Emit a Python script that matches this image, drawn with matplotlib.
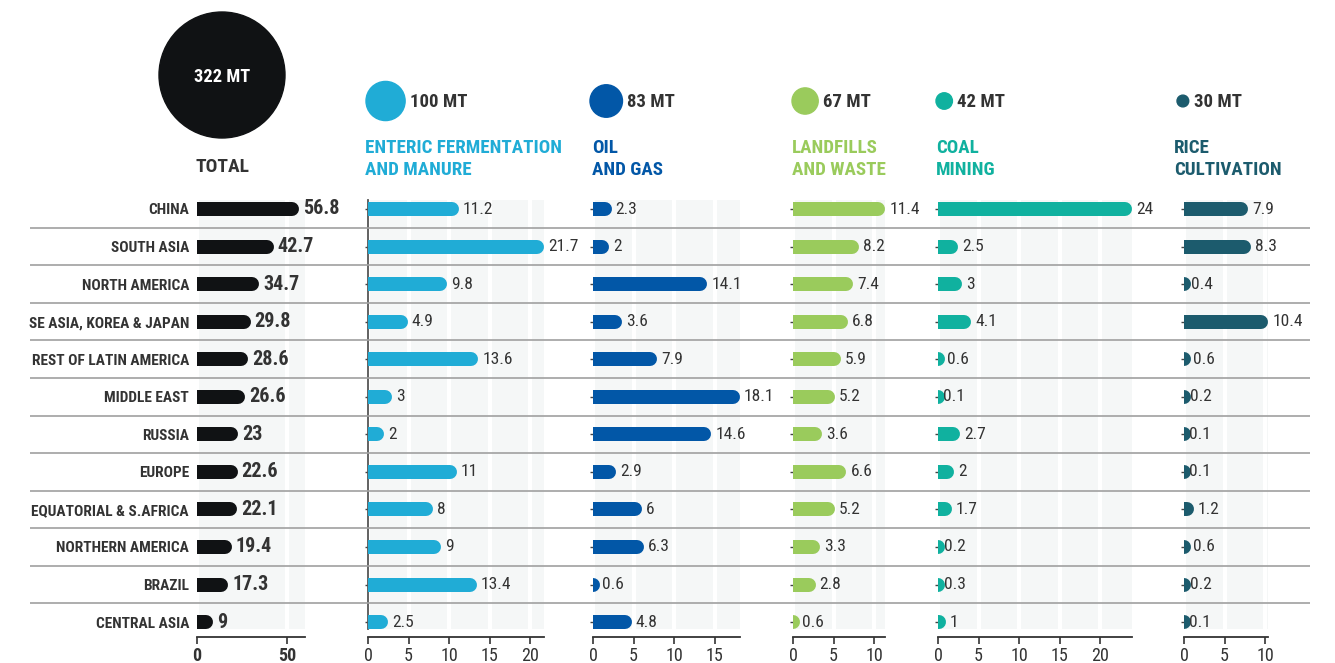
import matplotlib
matplotlib.use("Agg")
import matplotlib.pyplot as plt
from matplotlib import font_manager as fm
from matplotlib.patches import Circle
import numpy as np


def has_font(name):
    try:
        fm.findfont(fm.FontProperties(family=name), fallback_to_default=False)
        return True
    except ValueError:
        return False


# pick a condensed face if there is one, else squeeze the sizes a bit
if has_font('Roboto Condensed'):
    FONT, SQ = 'Roboto Condensed', 1.0
elif has_font('Liberation Sans Narrow'):
    FONT, SQ = 'Liberation Sans Narrow', 1.0
else:
    FONT, SQ = 'Roboto', 0.86
plt.rcParams['font.family'] = [FONT, 'DejaVu Sans']

regions = ['CHINA', 'SOUTH ASIA', 'NORTH AMERICA', 'SE ASIA, KOREA & JAPAN',
           'REST OF LATIN AMERICA', 'MIDDLE EAST', 'RUSSIA', 'EUROPE',
           'EQUATORIAL & S.AFRICA', 'NORTHERN AMERICA', 'BRAZIL', 'CENTRAL ASIA']
total = [56.8, 42.7, 34.7, 29.8, 28.6, 26.6, 23, 22.6, 22.1, 19.4, 17.3, 9]
enteric = [11.2, 21.7, 9.8, 4.9, 13.6, 3, 2, 11, 8, 9, 13.4, 2.5]
oil_gas = [2.3, 2, 14.1, 3.6, 7.9, 18.1, 14.6, 2.9, 6, 6.3, 0.6, 4.8]
landfills = [11.4, 8.2, 7.4, 6.8, 5.9, 5.2, 3.6, 6.6, 5.2, 3.3, 2.8, 0.6]
coal = [24, 2.5, 3, 4.1, 0.6, 0.1, 2.7, 2, 1.7, 0.2, 0.3, 1]
rice = [7.9, 8.3, 0.4, 10.4, 0.6, 0.2, 0.1, 0.1, 1.2, 0.6, 0.2, 0.1]

grand_total = 322
cat_totals = [100, 83, 67, 42, 30]
cat_titles = [('ENTERIC FERMENTATION', 'AND MANURE'), ('OIL', 'AND GAS'),
              ('LANDFILLS', 'AND WASTE'), ('COAL', 'MINING'), ('RICE', 'CULTIVATION')]
cat_series = [enteric, oil_gas, landfills, coal, rice]
cat_colors = ['#20acd6', '#0257a7', '#9acb5c', '#10b19f', '#1c5b6d']
total_color = '#101214'
text_color = '#333333'

W, H = 1335, 663
fig = plt.figure(figsize=(W / 100, H / 100), dpi=100)

# layout in pixels
TOP, BOT = 200, 629
ROW0, ROWSTEP = 209, 37.55
n = len(regions)
ylo = n - 1 + (BOT - (ROW0 + (n - 1) * ROWSTEP)) / ROWSTEP
yhi = -(ROW0 - TOP) / ROWSTEP
BAR_PX = 14
PT = 0.72  # points per pixel


def make_axes(x0, span_px):
    ax = fig.add_axes([x0 / W, 1 - BOT / H, span_px / W, (BOT - TOP) / H])
    ax.set_ylim(ylo, yhi)
    ax.set_facecolor('#f5f7f7')
    ax.xaxis.grid(True, color='white', lw=4 * PT)
    ax.set_axisbelow(True)
    for s in ['top', 'right', 'left']:
        ax.spines[s].set_visible(False)
    ax.spines['bottom'].set_position(('outward', 8 * PT))
    ax.spines['bottom'].set_color(text_color)
    ax.spines['bottom'].set_linewidth(1.3)
    ax.tick_params(axis='x', length=7 * PT, width=1.2, color=text_color,
                   labelcolor=text_color, labelsize=13, pad=2)
    return ax


def draw_bars(ax, vals, color, px_per_unit, bold=False):
    r = (BAR_PX / 2) / px_per_unit
    for i, v in enumerate(vals):
        ax.plot([0, v - r], [i, i], color=color, lw=BAR_PX * PT,
                solid_capstyle='round', zorder=3)
        ax.annotate(f'{v:g}', xy=(v, i), xytext=(4 * PT, 0),
                    textcoords='offset points', va='center', ha='left',
                    fontsize=14.5 if bold else 12.5, color=text_color,
                    fontweight='bold' if bold else 'normal',
                    annotation_clip=False)


# total panel
TOT_PX = 1.8
tot_max = 60
ax_t = make_axes(197, tot_max * TOT_PX)
ax_t.set_xlim(0, tot_max)
ax_t.set_xticks([0, 50])
for lab in ax_t.get_xticklabels():
    lab.set_fontweight('bold')
draw_bars(ax_t, total, total_color, TOT_PX, bold=True)
ax_t.set_yticks(range(n))
ax_t.set_yticklabels(regions, fontsize=11.1, fontweight='bold', color=text_color)
ax_t.tick_params(axis='y', length=0, pad=8 * PT)

# category panels
CAT_PX = 8.1
cat_x0 = [368, 593, 793, 938, 1184]
for k, (vals, col, x0) in enumerate(zip(cat_series, cat_colors, cat_x0)):
    dmax = max(vals)
    ax = make_axes(x0, dmax * CAT_PX)
    ax.set_xlim(0, dmax)
    ax.set_xticks(np.arange(0, dmax + 0.01, 5))
    ax.set_yticks(range(n))
    ax.set_yticklabels([])
    ax.tick_params(axis='y', length=3 * PT, width=1.0, color='#444444')
    if k == 0:
        ax.spines['left'].set_visible(True)
        ax.spines['left'].set_color('#555555')
        ax.spines['left'].set_linewidth(1.3)
    draw_bars(ax, vals, col, CAT_PX)

# row separators
ax_sep = fig.add_axes([30 / W, 1 - BOT / H, 1280 / W, (BOT - TOP) / H], zorder=5)
ax_sep.set_ylim(ylo, yhi)
ax_sep.set_xlim(0, 1)
ax_sep.axis('off')
ax_sep.hlines(np.arange(n - 1) + 0.5, 0, 1, color='#a0a0a0', lw=1.2)

# header: circles, totals and titles (pixel coordinates)
hdr = fig.add_axes([0, 0, 1, 1], zorder=0)
hdr.set_xlim(0, W)
hdr.set_ylim(H, 0)
hdr.axis('off')
R_SCALE = 63 / grand_total

hdr.add_patch(Circle((222, 75), grand_total * R_SCALE, color=total_color))
hdr.text(222, 77, f'{grand_total} MT', color='white', fontsize=13.2,
         fontweight='bold', ha='center', va='center')
hdr.text(222, 167, 'TOTAL', color=text_color, fontsize=14 * SQ,
         fontweight='bold', ha='center', va='center')

hdr_x = [366, 590, 792, 936, 1177]
title_x = [365, 592, 792, 936, 1174]
for tot, (l1, l2), col, hx, tx in zip(cat_totals, cat_titles, cat_colors, hdr_x, title_x):
    r = tot * R_SCALE
    hdr.add_patch(Circle((hx + r, 101), r, color=col))
    hdr.text(hx + 2 * r + 5, 102, f'{tot} MT', color=text_color, fontsize=13.5,
             fontweight='bold', ha='left', va='center')
    hdr.text(tx, 148, l1, color=col, fontsize=13.7 * SQ, fontweight='bold',
             ha='left', va='center')
    hdr.text(tx, 170, l2, color=col, fontsize=13.7 * SQ, fontweight='bold',
             ha='left', va='center')

fig.savefig('out.png', dpi=100, facecolor='white')
